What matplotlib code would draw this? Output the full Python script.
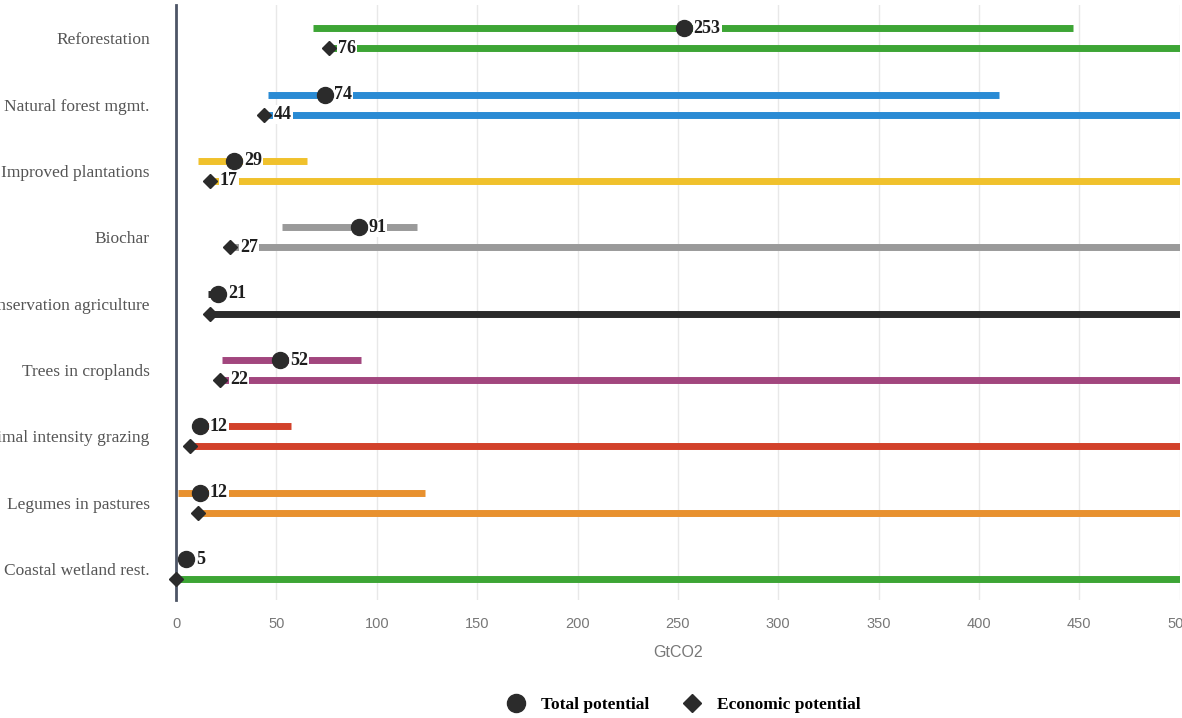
import matplotlib.pyplot as plt
from matplotlib.lines import Line2D

# data (GtCO2)
categories = [
    "Reforestation",
    "Natural forest mgmt.",
    "Improved plantations",
    "Biochar",
    "Conservation agriculture",
    "Trees in croplands",
    "Optimal intensity grazing",
    "Legumes in pastures",
    "Coastal wetland rest.",
]
total = [253, 74, 29, 91, 21, 52, 12, 12, 5]
total_low = [68, 46, 11, 53, 16, 23, 10, 1, None]
total_high = [447, 410, 65, 120, 24, 92, 57, 124, None]
economic = [76, 44, 17, 27, 17, 22, 7, 11, 0]
economic_high = [520, 520, 520, 520, 520, 520, 520, 520, 520]
economic_labels = ["76", "44", "17", "27", None, "22", None, None, None]
colors = ["#3da535", "#2a8bd4", "#f0c12c", "#9a9a9a", "#2b2b2b",
          "#a2467e", "#d2412a", "#e8912f", "#3da535"]
xticks = [0, 50, 100, 150, 200, 250, 300, 350, 400, 450, 500]

SERIF = ["Liberation Serif", "DejaVu Serif"]
NARROW = ["Liberation Sans Narrow", "Liberation Sans", "DejaVu Sans"]

fig = plt.figure(figsize=(11.82, 7.18), dpi=100)
ax = fig.add_axes([0.149, 0.164, 0.849, 0.829])

off = 0.15
for i, cat in enumerate(categories):
    c = colors[i]
    yt, ye = i - off, i + off
    if total_low[i] is not None:
        ax.plot([total_low[i], total_high[i]], [yt, yt], color=c, lw=5,
                solid_capstyle="butt", zorder=2)
    ax.plot([economic[i], economic_high[i]], [ye, ye], color=c, lw=5,
            solid_capstyle="butt", zorder=2)
    ax.plot(total[i], yt, "o", color="#2b2b2b", ms=11.5, zorder=4, clip_on=False)
    ax.plot(economic[i], ye, "D", color="#2b2b2b", ms=7.5, zorder=4, clip_on=False)
    ax.annotate(str(total[i]), (total[i], yt), xytext=(7, 0),
                textcoords="offset points", ha="left", va="center",
                fontsize=13, fontweight="bold", family=SERIF, color="#1e1e1e",
                bbox=dict(boxstyle="square,pad=0.05", fc="white", ec="none"),
                zorder=3)
    if economic_labels[i]:
        ax.annotate(economic_labels[i], (economic[i], ye), xytext=(7, 0),
                    textcoords="offset points", ha="left", va="center",
                    fontsize=13, fontweight="bold", family=SERIF,
                    color="#1e1e1e",
                    bbox=dict(boxstyle="square,pad=0.05", fc="white", ec="none"),
                    zorder=3)

ax.set_xlim(0, 500)
ax.set_ylim(8.47, -0.5)
ax.set_xticks(xticks)
ax.set_yticks(range(len(categories)))
ax.set_yticklabels(categories, family=SERIF, fontsize=12.5, color="#555555")
for lab in ax.get_xticklabels():
    lab.set_family(NARROW)
    lab.set_fontsize(10.5)
    lab.set_color("#777777")
ax.tick_params(axis="y", length=0, pad=19)
ax.tick_params(axis="x", length=0, pad=12)
ax.grid(axis="x", color="#e8e8e8", lw=1)
ax.set_axisbelow(True)
for sp in ["top", "right", "bottom"]:
    ax.spines[sp].set_visible(False)
ax.spines["left"].set_color("#4d5566")
ax.spines["left"].set_linewidth(2)
ax.set_xlabel("GtCO2", family=NARROW, fontsize=11.5, color="#777777", labelpad=10)

handles = [
    Line2D([], [], marker="o", ls="none", color="#2b2b2b", ms=13, label="Total potential"),
    Line2D([], [], marker="D", ls="none", color="#2b2b2b", ms=9, label="Economic potential"),
]
fig.legend(handles=handles, loc="center", bbox_to_anchor=(0.575, 0.018), ncol=2,
           frameon=False, prop={"family": SERIF, "weight": "bold", "size": 12.5},
           handletextpad=0.4, columnspacing=1.5)

fig.savefig("out.png", dpi=100)
